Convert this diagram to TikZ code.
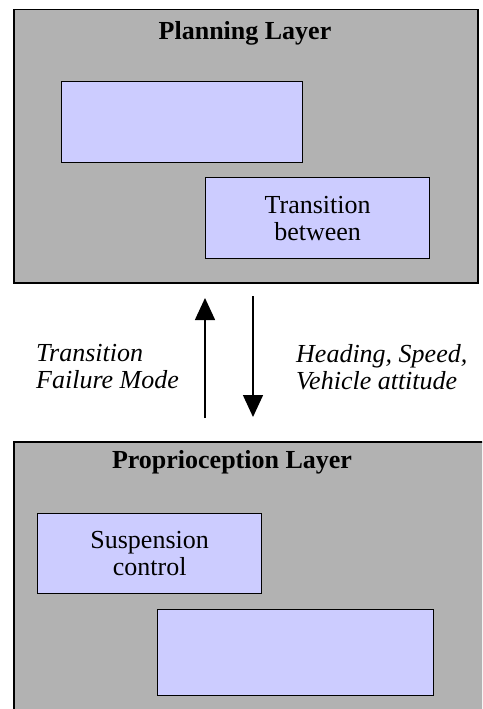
\documentclass[tikz,border=0pt]{standalone}
\usepackage{fontspec}
\setmainfont{Liberation Serif}
\usepackage{xcolor}
\usetikzlibrary{arrows.meta,positioning}
\definecolor{LayerGray}{HTML}{B2B2B2}
\definecolor{ModBlue}{HTML}{CCCCFF}

\begin{document}
\begin{tikzpicture}[x=1pt, y=-1pt, every node/.style={font=\fontsize{26}{27}\selectfont}, layer/.style={draw,line width=1.5pt,fill=LayerGray,anchor=north west,inner sep=0pt}, modbox/.style={draw,line width=1.3pt,fill=ModBlue,anchor=north west,align=center,inner sep=0pt}, ttl/.style={font=\fontsize{26}{27}\selectfont\bfseries}, lbl/.style={align=left,anchor=west,inner sep=0pt,font=\fontsize{26}{27}\selectfont\itshape}, arr/.style={-{Triangle[width=20pt,length=22pt]},line width=1.5pt}]
\clip (0,0) rectangle (482,709);
\fill[white] (0,0) rectangle (482,709);
% upper layer
\node[layer,minimum width=464pt,minimum height=273pt] (plan) at (13,9) {};
\node[ttl] (plantitle) at (245,33) {Planning Layer};
\node[modbox,minimum width=241pt,minimum height=81pt] (planA) at (61,81) {};
\node[modbox,minimum width=224pt,minimum height=81pt] (planB) at (205,177) {Transition\\between};
% lower layer, runs off the page
\node[layer,minimum width=500pt,minimum height=300pt] (prop) at (13,441) {};
\node[ttl] (proptitle) at (232,462) {Proprioception Layer};
\node[modbox,minimum width=224pt,minimum height=80pt] (susp) at (37,513) {Suspension\\control};
\node[modbox,minimum width=276pt,minimum height=86pt] (propB) at (157,609) {};
% messages between the layers
\coordinate (upS) at (205,418);
\coordinate (upE) at (205,298);
\coordinate (dnS) at (253,296);
\coordinate (dnE) at (253,417);
\draw[arr] (upS) -- (upE);
\draw[arr] (dnS) -- (dnE);
\node[lbl] (fail) at (36,367) {Transition\\Failure Mode};
\node[lbl] (cmd) at (296,367) {Heading, Speed,\\Vehicle attitude};
\end{tikzpicture}
\end{document}
